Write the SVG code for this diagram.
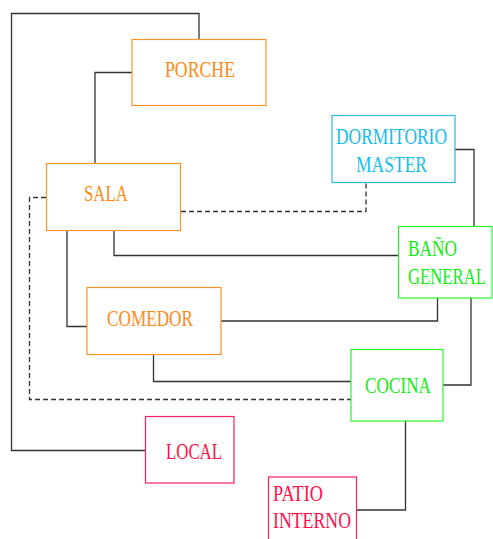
<svg xmlns="http://www.w3.org/2000/svg" width="493" height="539" viewBox="0 0 493 539">
  <style>
    .box { fill: #ffffff; stroke-width: 1.2; }
    .lbl { font-family: "Liberation Serif", "DejaVu Serif", serif; font-size: 24px; }
    .orange rect { stroke: #ff9326; }
    .orange text { fill: #ff8a14; }
    .cyan rect { stroke: #2bb8ea; }
    .cyan text { fill: #14bdf0; }
    .green rect { stroke: #2cf22c; }
    .green text { fill: #10ee10; }
    .pink rect { stroke: #ff1f5a; }
    .pink text { fill: #ff1048; }
    .wire { fill: none; stroke: #333333; stroke-width: 1.3; }
    .dash { stroke-dasharray: 5 3; }
  </style>

  <rect width="493" height="539" fill="#ffffff"/>

  <!-- connectors -->
  <g id="connectors">
    <path class="wire" d="M199,39 V13.5 H11.5 V450.5 H145"/>
    <path class="wire" d="M132,72.5 H95 V163"/>
    <path class="wire dash" d="M181,211.5 H366 V183"/>
    <path class="wire" d="M67,231 V326.5 H87"/>
    <path class="wire" d="M114,231 V255.5 H398"/>
    <path class="wire dash" d="M46,197.5 H29.5 V399.5 H351"/>
    <path class="wire" d="M455,149.5 H474 V226"/>
    <path class="wire" d="M221,321 H437.5 V298"/>
    <path class="wire" d="M153.5,355 V381.5 H351"/>
    <path class="wire" d="M443,385 H471 V298"/>
    <path class="wire" d="M405.5,421 V510 H357"/>
  </g>

  <g id="porche" class="orange">
    <rect class="box" x="132" y="39.5" width="134" height="66"/>
    <text class="lbl" x="165" y="77" textLength="70" lengthAdjust="spacingAndGlyphs">PORCHE</text>
  </g>

  <g id="sala" class="orange">
    <rect class="box" x="46.5" y="163.5" width="134" height="67"/>
    <text class="lbl" x="84" y="201" textLength="44" lengthAdjust="spacingAndGlyphs">SALA</text>
  </g>

  <g id="dormitorio-master" class="cyan">
    <rect class="box" x="332" y="115.5" width="123" height="67"/>
    <text class="lbl" x="336" y="144" textLength="111" lengthAdjust="spacingAndGlyphs">DORMITORIO</text>
    <text class="lbl" x="356" y="172" textLength="71" lengthAdjust="spacingAndGlyphs">MASTER</text>
  </g>

  <g id="bano-general" class="green">
    <rect class="box" x="398.5" y="226.5" width="93.5" height="71.5"/>
    <text class="lbl" x="408" y="256" textLength="49" lengthAdjust="spacingAndGlyphs">BAÑO</text>
    <text class="lbl" x="408" y="284" textLength="78" lengthAdjust="spacingAndGlyphs">GENERAL</text>
  </g>

  <g id="comedor" class="orange">
    <rect class="box" x="87" y="287.5" width="134" height="67"/>
    <text class="lbl" x="107" y="326" textLength="86" lengthAdjust="spacingAndGlyphs">COMEDOR</text>
  </g>

  <g id="cocina" class="green">
    <rect class="box" x="351" y="349.5" width="92" height="71.5"/>
    <text class="lbl" x="365" y="393" textLength="66" lengthAdjust="spacingAndGlyphs">COCINA</text>
  </g>

  <g id="local" class="pink">
    <rect class="box" x="145.5" y="416.5" width="88.5" height="66.5"/>
    <text class="lbl" x="166" y="459" textLength="56" lengthAdjust="spacingAndGlyphs">LOCAL</text>
  </g>

  <g id="patio-interno" class="pink">
    <rect class="box" x="268.5" y="477" width="88" height="70"/>
    <text class="lbl" x="273" y="501" textLength="50" lengthAdjust="spacingAndGlyphs">PATIO</text>
    <text class="lbl" x="273" y="528" textLength="78" lengthAdjust="spacingAndGlyphs">INTERNO</text>
  </g>
</svg>
